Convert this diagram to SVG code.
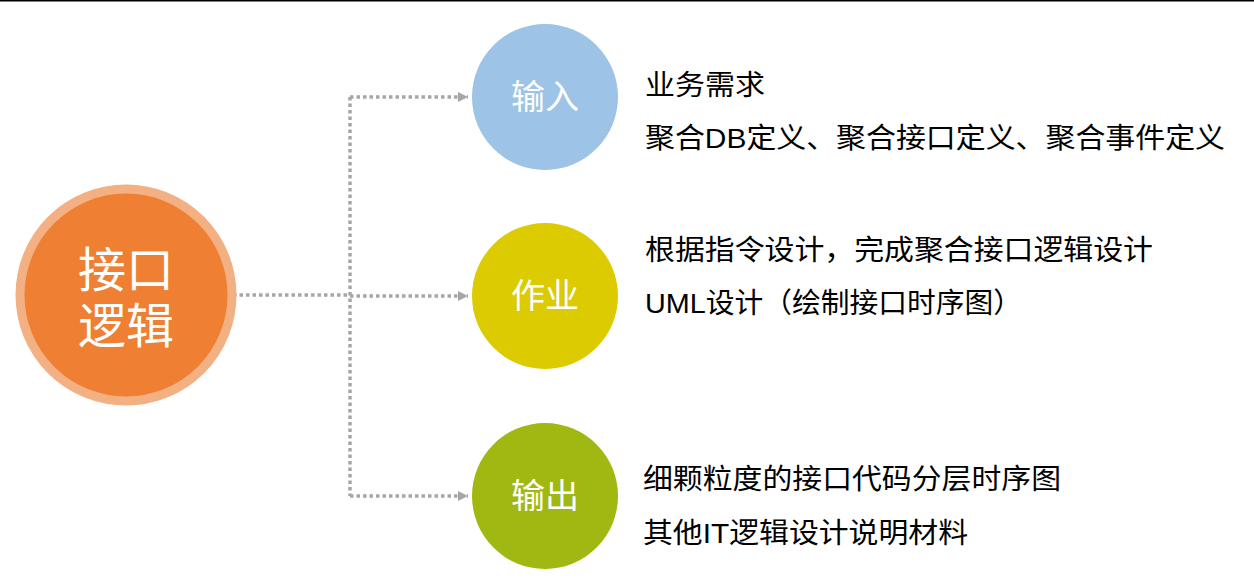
<svg xmlns="http://www.w3.org/2000/svg" width="1254" height="588" viewBox="0 0 1254 588">
<style>
.c{stroke:#a6a6a6;stroke-width:3.5;stroke-dasharray:3.5 3;fill:none}
.t{font-family:"Liberation Sans","Noto Sans CJK SC",sans-serif;font-size:28px;fill:#000}
.n{font-family:"Liberation Sans","Noto Sans CJK SC",sans-serif;font-size:34px;fill:#fff;text-anchor:middle}
</style>
<defs><marker id="a" viewBox="0 0 10 10" refX="10" refY="5" markerWidth="10" markerHeight="10" markerUnits="userSpaceOnUse" orient="auto"><path d="M0,0L10,5L0,10z" fill="#a6a6a6"/></marker></defs>
<rect width="1254" height="588" fill="#fff"/>
<line x1="0" y1="0.5" x2="1254" y2="0.5" stroke="#000" stroke-width="2"/>
<g id="connectors">
<path class="c" d="M233,295H350"/>
<path class="c" d="M350,97V496"/>
<path class="c" d="M350,97H468" marker-end="url(#a)"/>
<path class="c" d="M350,296H468" marker-end="url(#a)"/>
<path class="c" d="M350,496H468" marker-end="url(#a)"/>
</g>
<g id="center"><circle cx="126" cy="295" r="106" fill="#ee7f33" stroke="#f3b083" stroke-width="9"/>
<text class="n" style="font-size:48px" x="126" y="287">接口</text><text class="n" style="font-size:48px" x="126" y="343">逻辑</text></g>
<g id="input"><circle cx="545" cy="97" r="73" fill="#9dc3e6"/><text class="n" x="545" y="109">输入</text></g>
<g id="work"><circle cx="545" cy="296" r="73" fill="#dccb00"/><text class="n" x="545" y="308">作业</text></g>
<g id="output"><circle cx="545" cy="496" r="73" fill="#a2b812"/><text class="n" x="545" y="508">输出</text></g>
<g id="texts">
<text class="t" x="645" y="95" textLength="120" lengthAdjust="spacingAndGlyphs">业务需求</text>
<text class="t" x="645" y="148" textLength="580" lengthAdjust="spacingAndGlyphs">聚合DB定义、聚合接口定义、聚合事件定义</text>
<text class="t" x="645" y="260" textLength="508" lengthAdjust="spacingAndGlyphs">根据指令设计，完成聚合接口逻辑设计</text>
<text class="t" x="645" y="313" textLength="377" lengthAdjust="spacingAndGlyphs">UML设计（绘制接口时序图）</text>
<text class="t" x="643" y="489" textLength="418" lengthAdjust="spacingAndGlyphs">细颗粒度的接口代码分层时序图</text>
<text class="t" x="643" y="543" textLength="325" lengthAdjust="spacingAndGlyphs">其他IT逻辑设计说明材料</text>
</g>
</svg>
